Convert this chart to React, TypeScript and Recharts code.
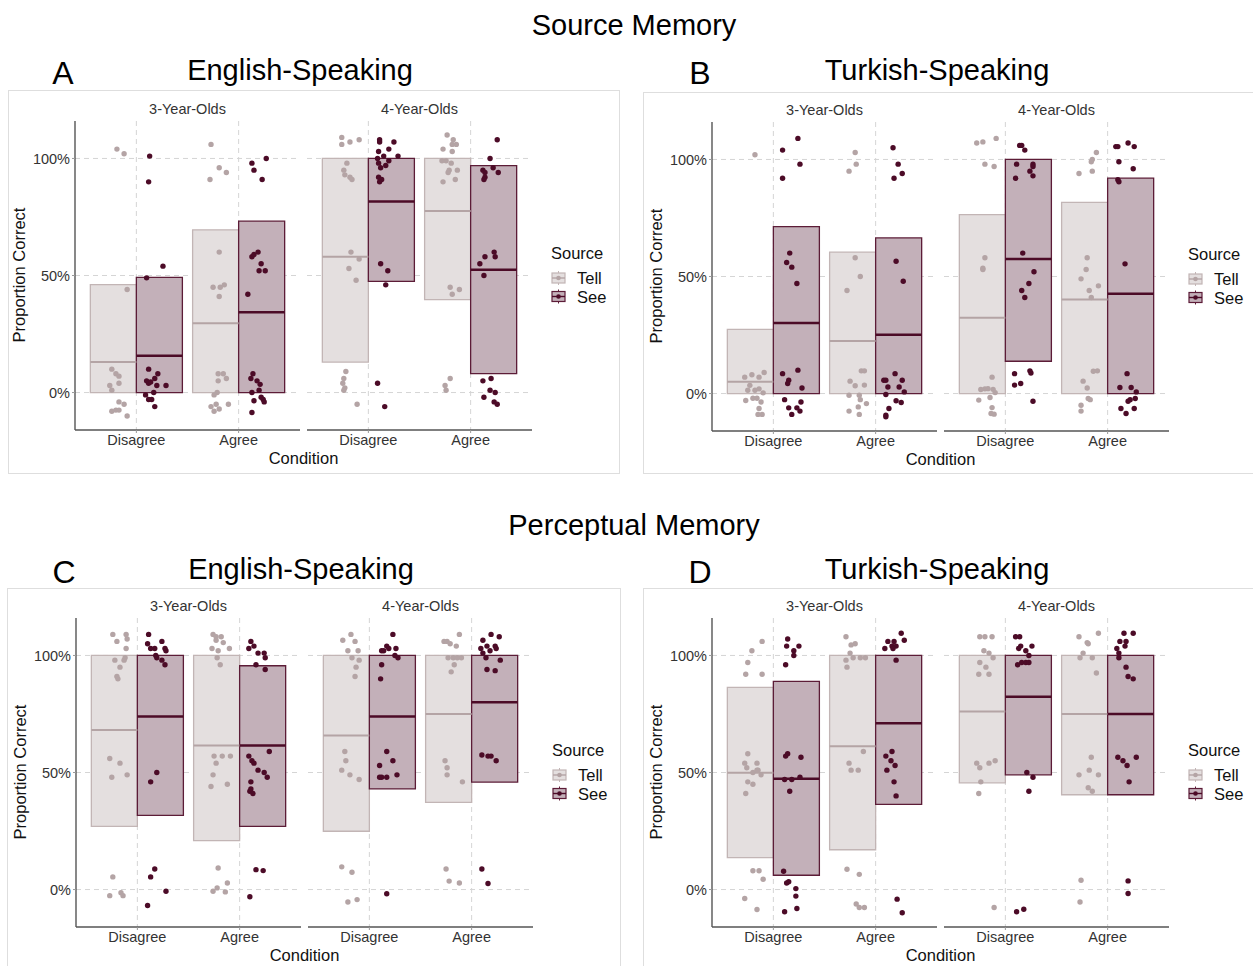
import React from "react";
import {
  ComposedChart,
  Scatter,
  XAxis,
  YAxis,
  CartesianGrid,
  ReferenceArea,
  ReferenceLine,
} from "recharts";

type Pt = [number, number];

const conditions = ["Disagree", "Agree"];
const ages = ["3-Year-Olds", "4-Year-Olds"];
const sources = ["Tell", "See"];
const yTicks = [0, 0.5, 1];
const xTicks = [1, 2];

// box order: 3yo Dis Tell, 3yo Dis See, 3yo Agr Tell, 3yo Agr See, 4yo Dis Tell, 4yo Dis See, 4yo Agr Tell, 4yo Agr See
const srcEngLower = [0, 0, 0, 0, 0.13, 0.475, 0.397, 0.081];
const srcEngMean = [0.13, 0.157, 0.296, 0.343, 0.58, 0.816, 0.776, 0.525];
const srcEngUpper = [0.461, 0.492, 0.695, 0.732, 1, 1, 1, 0.969];

const srcTurLower = [0, 0, 0, 0, 0, 0.138, 0, 0];
const srcTurMean = [0.05, 0.301, 0.224, 0.251, 0.324, 0.575, 0.402, 0.426];
const srcTurUpper = [0.274, 0.713, 0.604, 0.665, 0.764, 1, 0.817, 0.92];

const perEngLower = [0.27, 0.317, 0.209, 0.27, 0.249, 0.43, 0.372, 0.459];
const perEngMean = [0.682, 0.739, 0.615, 0.615, 0.658, 0.739, 0.75, 0.8];
const perEngUpper = [1, 1, 1, 0.956, 1, 1, 1, 1];

const perTurLower = [0.136, 0.061, 0.17, 0.364, 0.456, 0.49, 0.405, 0.405];
const perTurMean = [0.499, 0.473, 0.612, 0.71, 0.761, 0.824, 0.75, 0.75];
const perTurUpper = [0.864, 0.889, 1, 1, 1, 1, 1, 1];

// jittered points: [offset from condition centre, proportion]
const srcEngPoints: Pt[][] = [
  [[-0.19,1.04],[-0.12,1.02],[-0.09,0.44],[-0.24,0.1],[-0.2,0.08],[-0.17,0.07],[-0.26,0.03],[-0.17,0.04],[-0.24,0.01],[-0.17,-0.04],[-0.12,-0.05],[-0.24,-0.08],[-0.2,-0.075],[-0.09,-0.1],[-0.17,-0.075]],
  [[0.13,1.01],[0.12,0.9],[0.26,0.54],[0.1,0.49],[0.12,0.1],[0.21,0.08],[0.1,0.05],[0.18,0.06],[0.12,0.04],[0.2,0.03],[0.29,0.03],[0.09,-0.01],[0.17,0],[0.15,-0.03],[0.12,-0.03],[0.18,-0.06],[0.14,0.045]],
  [[-0.27,1.06],[-0.19,0.96],[-0.12,0.94],[-0.28,0.91],[-0.19,0.6],[-0.25,0.45],[-0.18,0.45],[-0.14,0.46],[-0.19,0.41],[-0.2,0.08],[-0.15,0.08],[-0.12,0.06],[-0.2,0.05],[-0.21,0],[-0.24,-0.01],[-0.22,-0.05],[-0.27,-0.06],[-0.19,-0.07],[-0.24,-0.08],[-0.1,-0.05]],
  [[0.13,0.98],[0.15,0.95],[0.27,1.0],[0.23,0.91],[0.13,0.58],[0.15,0.59],[0.19,0.6],[0.22,0.55],[0.2,0.52],[0.26,0.52],[0.09,0.42],[0.14,0.08],[0.12,0.06],[0.18,0.05],[0.21,0.035],[0.2,0.01],[0.13,0],[0.22,-0.02],[0.24,-0.03],[0.15,-0.035],[0.25,-0.04],[0.13,-0.085]],
  [[-0.26,1.09],[-0.26,1.06],[-0.18,1.07],[-0.09,1.08],[-0.21,0.98],[-0.24,0.95],[-0.23,0.93],[-0.18,0.92],[-0.16,0.91],[-0.17,0.6],[-0.09,0.57],[-0.19,0.53],[-0.12,0.48],[-0.22,0.09],[-0.24,0.06],[-0.25,0.04],[-0.23,0.02],[-0.24,0.01],[-0.11,-0.05]],
  [[0.11,1.08],[0.11,1.07],[0.2,1.04],[0.25,1.07],[0.1,1.03],[0.09,1.0],[0.15,1.01],[0.2,0.99],[0.29,1.01],[0.1,0.98],[0.17,0.97],[0.12,0.96],[0.1,0.92],[0.13,0.91],[0.11,0.9],[0.12,0.55],[0.19,0.52],[0.17,0.46],[0.09,0.04],[0.16,-0.06]],
  [[-0.23,1.1],[-0.17,1.08],[-0.18,1.06],[-0.14,1.06],[-0.27,1.04],[-0.18,1.03],[-0.24,0.99],[-0.28,0.99],[-0.19,0.98],[-0.21,0.95],[-0.22,0.94],[-0.13,0.95],[-0.27,0.9],[-0.15,0.91],[-0.2,0.45],[-0.11,0.44],[-0.18,0.42],[-0.2,0.06],[-0.25,0.03],[-0.24,0.01]],
  [[0.26,1.08],[0.19,1.0],[0.12,0.95],[0.22,0.96],[0.14,0.94],[0.27,0.94],[0.14,0.92],[0.13,0.91],[0.14,0.58],[0.23,0.6],[0.24,0.58],[0.09,0.55],[0.13,0.5],[0.12,0.05],[0.2,0.06],[0.19,0.01],[0.24,0],[0.13,-0.02],[0.23,-0.04],[0.26,-0.05]],
];

const srcTurPoints: Pt[][] = [
  [[-0.18,1.02],[-0.28,0.07],[-0.21,0.08],[-0.14,0.07],[-0.09,0.09],[-0.23,0.035],[-0.18,0.014],[-0.25,0.014],[-0.14,0.02],[-0.1,0.003],[-0.27,-0.03],[-0.2,-0.02],[-0.16,-0.02],[-0.12,-0.036],[-0.14,-0.064],[-0.15,-0.089],[-0.11,-0.089]],
  [[0.09,1.04],[0.24,1.09],[0.26,0.98],[0.09,0.92],[0.16,0.6],[0.13,0.56],[0.18,0.54],[0.23,0.47],[0.09,0.085],[0.24,0.1],[0.15,0.057],[0.14,0.043],[0.28,0.024],[0.11,-0.026],[0.15,-0.061],[0.23,-0.061],[0.27,-0.036],[0.18,-0.089],[0.26,-0.075]],
  [[-0.2,1.03],[-0.19,0.98],[-0.26,0.95],[-0.2,0.58],[-0.15,0.5],[-0.28,0.44],[-0.14,0.097],[-0.11,0.097],[-0.25,0.053],[-0.2,0.033],[-0.11,0.036],[-0.26,-0.007],[-0.16,-0.007],[-0.15,-0.026],[-0.09,-0.043],[-0.17,-0.057],[-0.26,-0.075],[-0.16,-0.089]],
  [[0.17,1.05],[0.22,0.98],[0.26,0.94],[0.18,0.92],[0.2,0.565],[0.27,0.48],[0.19,0.085],[0.08,0.057],[0.1,0.057],[0.12,0.028],[0.23,0.028],[0.26,0.057],[0.28,0.007],[0.1,-0.004],[0.2,-0.031],[0.25,-0.038],[0.13,-0.064],[0.1,-0.092],[0.1,-0.099]],
  [[-0.28,1.07],[-0.22,1.075],[-0.09,1.09],[-0.2,0.98],[-0.11,0.97],[-0.2,0.58],[-0.22,0.53],[-0.22,0.535],[-0.13,0.07],[-0.24,0.017],[-0.2,0.02],[-0.17,0.021],[-0.12,0.018],[-0.1,0.004],[-0.26,-0.028],[-0.15,-0.017],[-0.13,-0.06],[-0.14,-0.085],[-0.11,-0.088]],
  [[0.14,1.06],[0.16,1.06],[0.19,1.04],[0.11,0.98],[0.27,0.98],[0.27,0.97],[0.24,0.95],[0.27,0.93],[0.1,0.92],[0.17,0.6],[0.28,0.52],[0.23,0.47],[0.16,0.44],[0.19,0.41],[0.09,0.085],[0.24,0.097],[0.25,0.088],[0.09,0.036],[0.15,0.043],[0.27,-0.033]],
  [[-0.11,1.03],[-0.15,1.0],[-0.16,0.99],[-0.28,0.94],[-0.15,0.95],[-0.2,0.58],[-0.21,0.53],[-0.26,0.49],[-0.18,0.44],[-0.09,0.46],[-0.16,0.41],[-0.14,0.095],[-0.1,0.097],[-0.24,0.053],[-0.2,0.024],[-0.19,-0.021],[-0.17,-0.026],[-0.26,-0.05],[-0.26,-0.075]],
  [[0.08,1.055],[0.1,1.055],[0.2,1.07],[0.26,1.055],[0.11,0.99],[0.25,0.96],[0.1,0.913],[0.11,0.905],[0.17,0.554],[0.19,0.085],[0.12,0.026],[0.23,0.026],[0.28,0.007],[0.22,-0.026],[0.2,-0.033],[0.27,-0.021],[0.13,-0.064],[0.26,-0.064],[0.18,-0.085]],
];

const perEngPoints: Pt[][] = [
  [[-0.24,1.09],[-0.2,1.06],[-0.11,1.09],[-0.1,1.07],[-0.11,1.03],[-0.22,0.98],[-0.12,0.99],[-0.13,0.98],[-0.17,0.95],[-0.2,0.91],[-0.19,0.9],[-0.27,0.56],[-0.17,0.54],[-0.25,0.48],[-0.1,0.49],[-0.24,0.054],[-0.27,-0.026],[-0.16,-0.014],[-0.14,-0.026]],
  [[0.11,1.09],[0.1,1.05],[0.13,1.03],[0.17,1.03],[0.24,1.06],[0.27,1.03],[0.28,1.02],[0.18,1.0],[0.19,0.99],[0.24,0.98],[0.27,0.96],[0.19,0.5],[0.13,0.46],[0.17,0.088],[0.13,0.054],[0.28,-0.007],[0.1,-0.068]],
  [[-0.26,1.09],[-0.23,1.08],[-0.18,1.08],[-0.23,1.065],[-0.16,1.055],[-0.27,1.03],[-0.21,1.02],[-0.1,1.03],[-0.22,0.99],[-0.19,0.96],[-0.25,0.57],[-0.17,0.57],[-0.09,0.57],[-0.23,0.54],[-0.26,0.49],[-0.28,0.44],[-0.12,0.45],[-0.21,0.092],[-0.12,0.028],[-0.22,0.007],[-0.26,-0.007],[-0.14,-0.01]],
  [[0.11,1.06],[0.14,1.04],[0.09,1.03],[0.18,1.01],[0.24,1.01],[0.25,0.99],[0.16,0.96],[0.25,0.94],[0.29,0.59],[0.09,0.57],[0.12,0.55],[0.14,0.54],[0.18,0.51],[0.24,0.5],[0.27,0.48],[0.11,0.46],[0.11,0.43],[0.1,0.42],[0.13,0.41],[0.16,0.085],[0.23,0.081],[0.1,-0.031]],
  [[-0.26,1.065],[-0.18,1.09],[-0.14,1.06],[-0.21,1.02],[-0.11,1.02],[-0.17,0.99],[-0.1,0.98],[-0.13,0.95],[-0.14,0.91],[-0.24,0.59],[-0.23,0.55],[-0.27,0.51],[-0.19,0.49],[-0.1,0.47],[-0.27,0.097],[-0.17,0.074],[-0.21,-0.053],[-0.12,-0.043]],
  [[0.23,1.09],[0.12,1.02],[0.17,1.04],[0.19,1.03],[0.26,1.03],[0.14,1.02],[0.25,1.0],[0.28,0.99],[0.12,0.96],[0.11,0.9],[0.17,0.59],[0.23,0.55],[0.1,0.53],[0.1,0.48],[0.12,0.48],[0.17,0.48],[0.27,0.49],[0.17,-0.018]],
  [[-0.27,1.06],[-0.24,1.06],[-0.21,1.05],[-0.12,1.09],[-0.15,1.04],[-0.23,0.99],[-0.18,0.99],[-0.1,0.99],[-0.14,0.99],[-0.17,0.96],[-0.2,0.93],[-0.26,0.55],[-0.24,0.52],[-0.24,0.49],[-0.09,0.46],[-0.25,0.088],[-0.22,0.036],[-0.12,0.028]],
  [[0.19,1.09],[0.27,1.08],[0.11,1.065],[0.15,1.04],[0.23,1.04],[0.24,1.03],[0.09,1.03],[0.11,1.01],[0.18,1.02],[0.14,0.99],[0.28,0.98],[0.15,0.94],[0.23,0.935],[0.1,0.575],[0.16,0.57],[0.19,0.57],[0.24,0.55],[0.1,0.088],[0.16,0.026]],
];

const perTurPoints: Pt[][] = [
  [[-0.11,1.06],[-0.21,1.02],[-0.25,0.97],[-0.27,0.92],[-0.11,0.92],[-0.25,0.58],[-0.28,0.54],[-0.26,0.52],[-0.2,0.5],[-0.16,0.54],[-0.15,0.51],[-0.12,0.49],[-0.16,0.51],[-0.25,0.46],[-0.2,0.45],[-0.27,0.41],[-0.2,0.08],[-0.14,0.08],[-0.1,0.044],[-0.28,-0.038],[-0.16,-0.085]],
  [[0.14,1.07],[0.13,1.04],[0.2,1.02],[0.2,1.0],[0.25,1.04],[0.12,0.96],[0.12,0.57],[0.14,0.58],[0.27,0.565],[0.11,0.47],[0.18,0.47],[0.26,0.48],[0.16,0.42],[0.1,0.078],[0.13,0.028],[0.15,0.033],[0.22,0.004],[0.22,-0.028],[0.11,-0.095],[0.23,-0.081]],
  [[-0.29,1.08],[-0.24,1.045],[-0.2,1.05],[-0.25,1.01],[-0.29,0.98],[-0.22,0.99],[-0.15,0.99],[-0.1,0.99],[-0.28,0.95],[-0.12,0.59],[-0.26,0.54],[-0.24,0.51],[-0.17,0.51],[-0.28,0.087],[-0.16,0.065],[-0.19,-0.062],[-0.16,-0.077],[-0.11,-0.077]],
  [[0.09,1.03],[0.12,1.06],[0.16,1.04],[0.18,1.06],[0.2,1.04],[0.25,1.095],[0.28,1.065],[0.17,1.03],[0.2,0.98],[0.16,0.59],[0.1,0.57],[0.15,0.55],[0.19,0.53],[0.11,0.51],[0.18,0.46],[0.2,0.4],[0.21,-0.041],[0.26,-0.099]],
  [[-0.25,1.08],[-0.2,1.08],[-0.13,1.08],[-0.21,1.02],[-0.16,1.01],[-0.12,0.99],[-0.25,0.97],[-0.19,0.95],[-0.26,0.92],[-0.16,0.92],[-0.28,0.54],[-0.25,0.52],[-0.16,0.54],[-0.1,0.55],[-0.24,0.46],[-0.26,0.41],[-0.11,-0.077]],
  [[0.1,1.08],[0.14,1.08],[0.15,1.04],[0.13,1.03],[0.2,1.02],[0.26,1.04],[0.23,1.0],[0.12,0.96],[0.16,0.97],[0.2,0.97],[0.23,0.97],[0.21,0.5],[0.27,0.48],[0.23,0.42],[0.11,-0.095],[0.18,-0.084]],
  [[-0.28,1.08],[-0.2,1.055],[-0.19,1.05],[-0.09,1.095],[-0.24,1.01],[-0.27,0.99],[-0.15,0.99],[-0.11,0.925],[-0.16,0.565],[-0.28,0.49],[-0.18,0.51],[-0.09,0.49],[-0.19,0.435],[-0.15,0.42],[-0.26,0.04],[-0.27,-0.053]],
  [[0.16,1.095],[0.25,1.095],[0.12,1.06],[0.18,1.06],[0.17,1.04],[0.09,1.03],[0.11,1.01],[0.11,0.99],[0.18,0.95],[0.2,0.91],[0.25,0.9],[0.1,0.565],[0.15,0.55],[0.19,0.53],[0.28,0.565],[0.21,0.46],[0.2,0.037],[0.2,-0.017]],
];

const FONT = "'Liberation Sans', Arial, Helvetica, sans-serif";
const TEXT = "#333333";
const STYLE = [
  { fill: "#e4dfdf", stroke: "#c2b5b5", dot: "#b4a4a5", mean: "#b4a4a5", meanW: 2 },
  { fill: "#c3b0b9", stroke: "#5c1c37", dot: "#4c0b27", mean: "#4c0b27", meanW: 2.5 },
];

const FACET_W = 225;
const FACET_GAP = 7;
const PLOT_H = 309;
const X_H = 40;
const Y_W = 64;
const HALF = 0.45;

type Panel = {
  letter: string;
  title: string;
  titleY: number;
  plotLeft: number;
  plotTop: number;
  border: [number, number, number, number];
  lower: number[];
  mean: number[];
  upper: number[];
  points: Pt[][];
};

const panels: Panel[] = [
  { letter: "A", title: "English-Speaking", titleY: 70, plotLeft: 75, plotTop: 121, border: [8, 90, 611, 383], lower: srcEngLower, mean: srcEngMean, upper: srcEngUpper, points: srcEngPoints },
  { letter: "B", title: "Turkish-Speaking", titleY: 70, plotLeft: 712, plotTop: 122, border: [643, 92, 640, 381], lower: srcTurLower, mean: srcTurMean, upper: srcTurUpper, points: srcTurPoints },
  { letter: "C", title: "English-Speaking", titleY: 569, plotLeft: 76, plotTop: 618, border: [7, 588, 613, 420], lower: perEngLower, mean: perEngMean, upper: perEngUpper, points: perEngPoints },
  { letter: "D", title: "Turkish-Speaking", titleY: 569, plotLeft: 712, plotTop: 618, border: [643, 588, 640, 420], lower: perTurLower, mean: perTurMean, upper: perTurUpper, points: perTurPoints },
];

function makeDot(color: string) {
  return (props: any) => <circle cx={props.cx} cy={props.cy} r={2.7} fill={color} />;
}

function Facet({ p, age, showY }: { p: Panel; age: number; showY: boolean }) {
  const yw = showY ? Y_W : 0;
  const left = p.plotLeft + age * (FACET_W + FACET_GAP) - yw;
  const series = sources.map((_, si) => {
    const rows: { x: number; y: number }[] = [];
    conditions.forEach((_, ci) => {
      p.points[age * 4 + ci * 2 + si].forEach(([dx, y]) => rows.push({ x: ci + 1 + dx, y }));
    });
    return rows;
  });
  const boxes: React.ReactNode[] = [];
  conditions.forEach((_, ci) => {
    const c = ci + 1;
    sources.forEach((_, si) => {
      const gi = age * 4 + ci * 2 + si;
      const x1 = si === 0 ? c - HALF : c;
      const x2 = si === 0 ? c : c + HALF;
      const st = STYLE[si];
      boxes.push(
        <ReferenceArea key={`a${gi}`} x1={x1} x2={x2} y1={p.lower[gi]} y2={p.upper[gi]}
          fill={st.fill} fillOpacity={1} stroke={st.stroke} strokeWidth={1.3} ifOverflow="visible" />
      );
      boxes.push(
        <ReferenceLine key={`m${gi}`} segment={[{ x: x1, y: p.mean[gi] }, { x: x2, y: p.mean[gi] }]}
          stroke={st.mean} strokeWidth={st.meanW} ifOverflow="visible" />
      );
    });
  });
  const tick = { fill: TEXT, fontSize: 14.5, fontFamily: FONT };
  return (
    <div style={{ position: "absolute", left, top: p.plotTop }}>
      <ComposedChart width={FACET_W + yw} height={PLOT_H + X_H} margin={{ top: 0, right: 0, bottom: 0, left: 0 }}>
        <CartesianGrid stroke="#d5d5d5" strokeDasharray="5 4" strokeWidth={1}
          horizontalValues={yTicks} verticalValues={xTicks} />
        <XAxis type="number" dataKey="x" domain={[0.4, 2.6]} ticks={xTicks} interval={0}
          tickFormatter={(v: number) => conditions[v - 1]} height={X_H} allowDataOverflow
          axisLine={{ stroke: "#555", strokeWidth: 1.4 }} tickLine={{ stroke: "#999" }}
          tickSize={3} tickMargin={2} tick={tick} />
        <YAxis type="number" dataKey="y" domain={[-0.16, 1.16]} ticks={yTicks} interval={0}
          tickFormatter={(v: number) => `${Math.round(v * 100)}%`} width={Y_W} hide={!showY} allowDataOverflow
          axisLine={{ stroke: "#555", strokeWidth: 1.4 }} tickLine={{ stroke: "#999" }}
          tickSize={3} tickMargin={2} tick={tick} />
        {boxes}
        {series.map((rows, si) => (
          <Scatter key={si} name={sources[si]} data={rows} fill={STYLE[si].dot}
            shape={makeDot(STYLE[si].dot)} isAnimationActive={false} />
        ))}
      </ComposedChart>
    </div>
  );
}

function LegendKey({ x, y, si }: { x: number; y: number; si: number }) {
  const st = STYLE[si];
  return (
    <g>
      <line x1={x + 6.5} x2={x + 6.5} y1={y - 7} y2={y + 7} stroke={st.stroke} strokeWidth={1} />
      <rect x={x} y={y - 5} width={13} height={10} fill={st.fill} stroke={st.stroke} strokeWidth={1.2} />
      <line x1={x} x2={x + 13} y1={y} y2={y} stroke={st.mean} strokeWidth={1.4} />
      <circle cx={x + 6.5} cy={y} r={2.3} fill={st.dot} />
    </g>
  );
}

function Decor({ p }: { p: Panel }) {
  const [bx, by, bw, bh] = p.border;
  const legX = p.plotLeft + 476;
  const legY = p.plotTop + 132;
  const plotBottom = p.plotTop + PLOT_H;
  const axisMid = p.plotLeft + FACET_W + FACET_GAP / 2;
  return (
    <g fontFamily={FONT}>
      <rect x={bx + 0.5} y={by + 0.5} width={bw} height={bh} fill="#fff" stroke="#dedede" strokeWidth={1} />
      <text x={p.plotLeft - 12} y={p.titleY + 3} fontSize={32} fill="#000" textAnchor="middle" dominantBaseline="central">{p.letter}</text>
      <text x={p.plotLeft + 225} y={p.titleY} fontSize={29} fill="#000" textAnchor="middle" dominantBaseline="central">{p.title}</text>
      {ages.map((a, ai) => (
        <text key={a} x={p.plotLeft + ai * (FACET_W + FACET_GAP) + FACET_W / 2} y={p.plotTop - 12}
          fontSize={14.5} fill={TEXT} textAnchor="middle" dominantBaseline="central">{a}</text>
      ))}
      <text x={axisMid} y={plotBottom + 28} fontSize={16.5} fill="#111" textAnchor="middle" dominantBaseline="central">Condition</text>
      <text x={p.plotLeft - 56} y={p.plotTop + 154} fontSize={16.5} fill="#111" textAnchor="middle" dominantBaseline="central"
        transform={`rotate(-90 ${p.plotLeft - 56} ${p.plotTop + 154})`}>Proportion Correct</text>
      <text x={legX} y={legY} fontSize={16.5} fill="#111" dominantBaseline="central">Source</text>
      {sources.map((s, si) => (
        <g key={s}>
          <LegendKey x={legX + 1} y={legY + 25 + si * 18.5} si={si} />
          <text x={legX + 26} y={legY + 25 + si * 18.5} fontSize={16.5} fill="#111" dominantBaseline="central">{s}</text>
        </g>
      ))}
    </g>
  );
}

export default function App() {
  return (
    <div style={{ position: "absolute", left: 0, top: 0, width: 1253, height: 966, background: "#fff", overflow: "hidden" }}>
      <svg width={1253} height={966} style={{ position: "absolute", left: 0, top: 0 }}>
        <g fontFamily={FONT}>
          <text x={634} y={25} fontSize={29} textAnchor="middle" dominantBaseline="central" fill="#000">Source Memory</text>
          <text x={634} y={525} fontSize={29} textAnchor="middle" dominantBaseline="central" fill="#000">Perceptual Memory</text>
        </g>
        {panels.map((p) => (
          <Decor key={p.letter} p={p} />
        ))}
      </svg>
      {panels.map((p) =>
        ages.map((a, ai) => <Facet key={p.letter + a} p={p} age={ai} showY={ai === 0} />)
      )}
    </div>
  );
}
